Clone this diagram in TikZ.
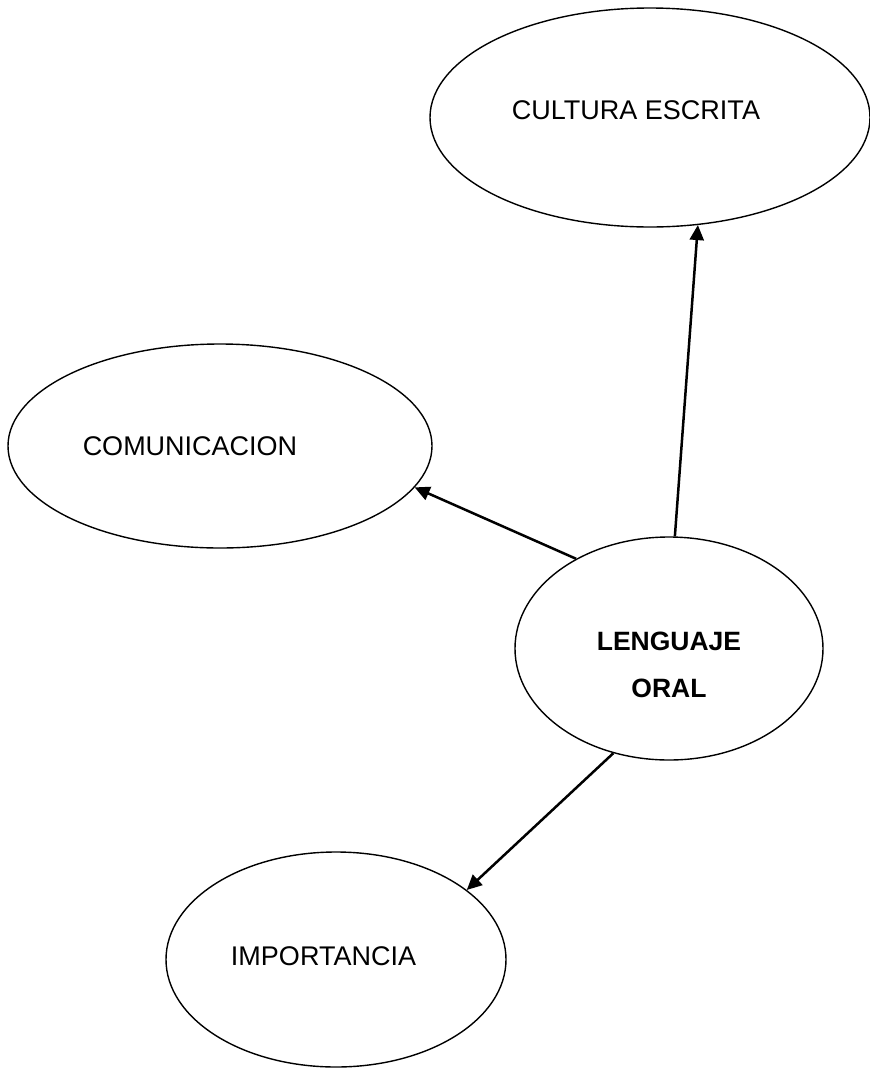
\documentclass[tikz,border=0pt]{standalone}
\usepackage{fontspec}
\setmainfont{Liberation Sans}
\usetikzlibrary{shapes,arrows.meta,positioning,calc}

\tikzset{
  bubble/.style={ellipse, draw, line width=1.4pt, inner sep=0pt},
  bubtext/.style={font=\fontsize{27}{30}\selectfont, inner sep=0pt},
  link/.style={line width=2.5pt, -{Triangle[length=15pt,width=14pt]}}
}

\begin{document}
\begin{tikzpicture}[x=1pt,y=-1pt]
  \useasboundingbox (0,0) rectangle (870,1069);
  % ellipses
  \node[bubble, minimum width=440pt, minimum height=219pt] (ce) at (650,117.5) {};
  \node[bubble, minimum width=424pt, minimum height=204pt] (com) at (220,446) {};
  \node[bubble, minimum width=308pt, minimum height=223pt] (lo) at (669,648.5) {};
  \node[bubble, minimum width=340pt, minimum height=215pt] (imp) at (336,959.5) {};
  % texts
  \node[bubtext] (ce-t) at ($(ce)+(-14,-7.5)$) {CULTURA ESCRITA};
  \node[bubtext] (com-t) at ($(com)+(-30,0)$) {COMUNICACION};
  \node[bubtext, font=\bfseries\fontsize{26.5}{47}\selectfont, align=center] (lo-t) at ($(lo)+(0,16.5)$) {LENGUAJE\\ORAL};
  \node[bubtext] (imp-t) at ($(imp)+(-12.5,-3.5)$) {IMPORTANCIA};
  % arrows
  \draw[link] (lo.87.4) -- (ce.-66.9);
  \draw[link] (lo.136.3) -- (com.-12.6);
  \draw[link] (lo.-118.5) -- (imp.28.5);
\end{tikzpicture}
\end{document}
